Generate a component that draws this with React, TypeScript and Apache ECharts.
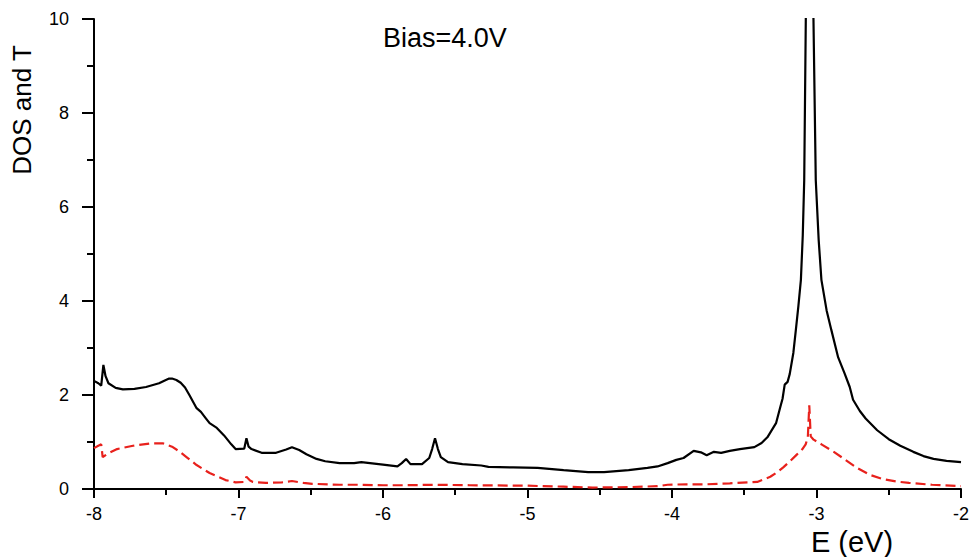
import React, { useEffect, useRef } from "react";
import * as echarts from "echarts";

const dosX = [
  -8.0, -7.97, -7.95, -7.935, -7.92, -7.9, -7.85, -7.8, -7.72, -7.64, -7.55, -7.51, -7.48, -7.46, -7.43, -7.4, -7.37,
  -7.34, -7.29, -7.26, -7.23, -7.2, -7.15, -7.1, -7.05, -7.02, -6.96, -6.945, -6.93, -6.91, -6.84, -6.74,
  -6.67, -6.63, -6.58, -6.53, -6.46, -6.4, -6.3, -6.2, -6.15, -6.0, -5.9, -5.87, -5.84, -5.81, -5.73,
  -5.68, -5.66, -5.64, -5.62, -5.6, -5.55, -5.45, -5.32, -5.27, -5.1, -4.93, -4.75, -4.58, -4.47, -4.3,
  -4.17, -4.1, -4.03, -3.97, -3.92, -3.85, -3.8, -3.76, -3.71, -3.66, -3.6, -3.53, -3.43, -3.38, -3.34,
  -3.28, -3.25, -3.235, -3.22, -3.2, -3.185, -3.16, -3.143, -3.125, -3.108, -3.095, -3.085, -3.074, -3.05,
  -3.021, -3.005, -2.985, -2.966, -2.93, -2.897, -2.85, -2.807, -2.77, -2.747, -2.7, -2.66, -2.58, -2.5, -2.42,
  -2.33, -2.26, -2.19, -2.1, -2.0,
];
const dosY = [
  2.3, 2.25, 2.2, 2.64, 2.4, 2.25, 2.15, 2.12, 2.13, 2.17, 2.25, 2.31, 2.35, 2.35, 2.32, 2.26, 2.16,
  2.0, 1.72, 1.64, 1.52, 1.4, 1.3, 1.14, 0.95, 0.85, 0.86, 1.08, 0.9, 0.85, 0.77, 0.77,
  0.84, 0.89, 0.83, 0.74, 0.64, 0.59, 0.55, 0.55, 0.57, 0.52, 0.48, 0.55, 0.64, 0.53, 0.53,
  0.66, 0.85, 1.08, 0.85, 0.68, 0.57, 0.53, 0.5, 0.47, 0.46, 0.45, 0.4, 0.36, 0.36, 0.4,
  0.45, 0.48, 0.55, 0.62, 0.66, 0.81, 0.78, 0.72, 0.79, 0.77, 0.81, 0.85, 0.89, 0.98, 1.1,
  1.4, 1.75, 1.92, 2.22, 2.28, 2.45, 2.9, 3.38, 3.9, 4.45, 5.4, 6.57, 10.0, 18.0,
  10.0, 6.57, 5.3, 4.45, 3.8, 3.38, 2.8, 2.47, 2.17, 1.9, 1.66, 1.5, 1.25, 1.06, 0.92,
  0.79, 0.7, 0.64, 0.6, 0.57,
];

const transX = [
  -8.0, -7.97, -7.95, -7.94, -7.9, -7.84, -7.73, -7.61, -7.52, -7.46, -7.41, -7.36, -7.29, -7.2, -7.09,
  -7.02, -6.96, -6.945, -6.92, -6.9, -6.81, -6.7, -6.63, -6.55, -6.49, -6.3, -6.17, -6.0, -5.85, -5.64,
  -5.4, -5.0, -4.75, -4.55, -4.3, -4.1, -4.03, -3.9, -3.76, -3.6, -3.41, -3.32, -3.27, -3.23, -3.18,
  -3.14, -3.1, -3.075, -3.06, -3.05, -3.04, -3.02, -2.96, -2.88, -2.8, -2.72, -2.63, -2.54, -2.45, -2.36,
  -2.2, -2.0,
];
const transY = [
  0.87, 0.92, 0.95, 0.68, 0.76, 0.85, 0.92, 0.97, 0.97, 0.9, 0.8, 0.68, 0.51, 0.34, 0.19,
  0.14, 0.15, 0.26, 0.18, 0.15, 0.13, 0.14, 0.17, 0.13, 0.11, 0.09, 0.09, 0.08, 0.08, 0.09,
  0.08, 0.07, 0.05, 0.03, 0.04, 0.06, 0.09, 0.1, 0.1, 0.12, 0.15, 0.26, 0.36, 0.46, 0.6,
  0.72, 0.84, 0.95, 1.1, 1.78, 1.12, 1.05, 0.94, 0.79, 0.62, 0.45, 0.3, 0.21, 0.16, 0.13,
  0.09, 0.06,
];

const FONT = "'Liberation Sans', Arial, Helvetica, sans-serif";

export default function App() {
  const ref = useRef<HTMLDivElement>(null);
  useEffect(() => {
    if (!ref.current) return;
    const chart = echarts.init(ref.current, undefined, { renderer: "svg" });
    const axisCommon = {
      axisLine: { show: true, lineStyle: { color: "#000", width: 2 } },
      splitLine: { show: false },
    };
    chart.setOption({
      animation: false,
      backgroundColor: "#fff",
      grid: { left: 94, right: 7, top: 19, bottom: 68 },
      xAxis: {
        type: "value",
        min: -8,
        max: -2,
        interval: 1,
        ...axisCommon,
        axisTick: { show: true, inside: false, length: 9, lineStyle: { color: "#000", width: 2 } },
        minorTick: { show: true, splitNumber: 2, length: 6, lineStyle: { color: "#000", width: 2 } },
        axisLabel: { color: "#000", fontSize: 18, fontFamily: FONT, margin: 16 },
      },
      yAxis: {
        type: "value",
        min: 0,
        max: 10,
        interval: 2,
        ...axisCommon,
        axisTick: { show: true, inside: false, length: 12, lineStyle: { color: "#000", width: 2 } },
        minorTick: { show: true, splitNumber: 2, length: 7, lineStyle: { color: "#000", width: 2 } },
        axisLabel: { color: "#000", fontSize: 18, fontFamily: FONT, margin: 25 },
      },
      series: [
        {
          type: "line",
          data: dosX.map((x, i) => [x, dosY[i]]),
          showSymbol: false,
          clip: true,
          lineStyle: { color: "#000", width: 2.2 },
          z: 3,
        },
        {
          type: "line",
          data: transX.map((x, i) => [x, transY[i]]),
          showSymbol: false,
          clip: true,
          lineStyle: { color: "#e8211c", width: 2.2, type: [10, 5] },
          z: 2,
        },
      ],
      graphic: [
        {
          type: "text",
          x: 22,
          y: 110,
          rotation: Math.PI / 2,
          style: {
            text: "DOS and T",
            fontSize: 26,
            fontFamily: FONT,
            fill: "#000",
            align: "center",
            verticalAlign: "middle",
          },
        },
        {
          type: "text",
          x: 383,
          y: 38,
          style: {
            text: "Bias=4.0V",
            fontSize: 27,
            fontFamily: FONT,
            fill: "#000",
            align: "left",
            verticalAlign: "middle",
          },
        },
        {
          type: "text",
          x: 852,
          y: 542,
          style: {
            text: "E (eV)",
            fontSize: 29,
            fontFamily: FONT,
            fill: "#000",
            align: "center",
            verticalAlign: "middle",
          },
        },
      ],
    });
    return () => chart.dispose();
  }, []);
  return (
    <div
      ref={ref}
      style={{ position: "fixed", left: 0, top: 0, width: 972, height: 557, background: "#fff" }}
    />
  );
}
